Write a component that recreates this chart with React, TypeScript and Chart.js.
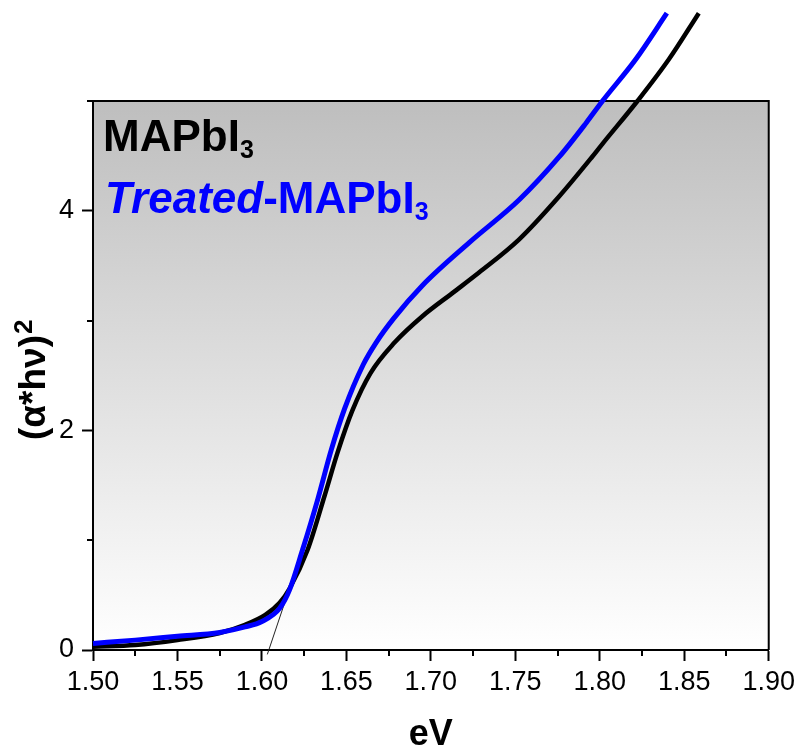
import React, { useEffect, useRef } from 'react';
import { Chart, registerables } from 'chart.js';

Chart.register(...registerables);

// Tauc plot data: photon energy (eV) vs (alpha*h*nu)^2
const treatedEv = [
  1.5, 1.525, 1.55, 1.575, 1.59, 1.6, 1.6105, 1.6164, 1.624, 1.633, 1.641,
  1.649, 1.66, 1.6676, 1.678, 1.695, 1.7227, 1.7523, 1.7759, 1.7919, 1.8016, 1.8213, 1.8397,
];
const treatedAbs = [
  0.06, 0.09, 0.125, 0.16, 0.21, 0.26, 0.38, 0.55, 0.91, 1.37, 1.82,
  2.2, 2.6, 2.8, 3.02, 3.32, 3.71, 4.1, 4.49, 4.8, 5.0, 5.38, 5.8,
];

const pristineEv = [
  1.5, 1.525, 1.55, 1.575, 1.59, 1.602, 1.6105, 1.6164, 1.627, 1.637, 1.6448, 1.6535,
  1.6642, 1.6785, 1.695, 1.7127, 1.7287, 1.7523, 1.7759, 1.7954, 1.8016, 1.8223, 1.8409, 1.8586,
];
const pristineAbs = [
  0.03, 0.045, 0.09, 0.155, 0.23, 0.32, 0.43, 0.56, 0.91, 1.4, 1.8, 2.18,
  2.52, 2.8, 3.04, 3.25, 3.44, 3.74, 4.13, 4.49, 4.61, 5.0, 5.38, 5.8,
];

// Linear extrapolation of the absorption edge
const tangentEv = [1.6032, 1.632];
const tangentAbs = [-0.04, 1.28];

const xMin = 1.5;
const xMax = 1.9;
const xStep = 0.025; // minor step, labels every 0.05
const yMin = 0;
const yMax = 5;
const yStep = 1; // minor step, labels every 2

const FONT = "'Liberation Sans', Arial, Helvetica, sans-serif";

const toPoints = (xs: number[], ys: number[]) => xs.map((x, i) => ({ x, y: ys[i] }));

const isMajorX = (v: number) => Math.round(v * 1000) % 50 === 0;
const isMajorY = (v: number) => Math.round(v) % 2 === 0;

const plotDecor = {
  id: 'plotDecor',
  beforeDraw(chart: any) {
    const { ctx, chartArea: a } = chart;
    const g = ctx.createLinearGradient(0, a.top, 0, a.bottom);
    g.addColorStop(0, 'rgb(190,190,190)');
    g.addColorStop(1, 'rgb(255,255,255)');
    ctx.save();
    ctx.fillStyle = g;
    ctx.fillRect(a.left, a.top, a.right - a.left, a.bottom - a.top);
    ctx.restore();
  },
  beforeDatasetsDraw(chart: any) {
    const { ctx, chartArea: a, scales } = chart;
    ctx.save();
    ctx.strokeStyle = '#000';
    ctx.lineWidth = 2;
    // top and right frame
    ctx.beginPath();
    ctx.moveTo(a.left, a.top);
    ctx.lineTo(a.right, a.top);
    ctx.lineTo(a.right, a.bottom);
    ctx.stroke();
    // minor ticks
    const minorLen = 6;
    ctx.beginPath();
    for (const t of scales.x.ticks) {
      if (isMajorX(t.value)) continue;
      const px = Math.round(scales.x.getPixelForValue(t.value));
      ctx.moveTo(px, a.bottom);
      ctx.lineTo(px, a.bottom + minorLen);
    }
    for (const t of scales.y.ticks) {
      if (isMajorY(t.value)) continue;
      const py = Math.round(scales.y.getPixelForValue(t.value));
      ctx.moveTo(a.left, py);
      ctx.lineTo(a.left - minorLen, py);
    }
    ctx.stroke();
    ctx.restore();
  },
  afterDraw(chart: any) {
    const { ctx, chartArea: a } = chart;
    const drawLabel = (
      parts: { text: string; style: string; sub?: boolean }[],
      x: number,
      y: number,
      color: string,
    ) => {
      let cx = x;
      ctx.fillStyle = color;
      ctx.textBaseline = 'alphabetic';
      ctx.textAlign = 'left';
      for (const p of parts) {
        ctx.font = p.sub ? `bold 25px ${FONT}` : `${p.style} 44px ${FONT}`;
        ctx.fillText(p.text, cx, p.sub ? y + 7 : y);
        cx += ctx.measureText(p.text).width;
      }
    };
    ctx.save();
    drawLabel(
      [
        { text: 'MAPbI', style: 'bold' },
        { text: '3', style: 'bold', sub: true },
      ],
      a.left + 10,
      a.top + 50,
      '#000',
    );
    drawLabel(
      [
        { text: 'Treated', style: 'italic bold' },
        { text: '-MAPbI', style: 'bold' },
        { text: '3', style: 'bold', sub: true },
      ],
      a.left + 12,
      a.top + 112,
      '#0000ff',
    );

    // y-axis title with a raised exponent
    ctx.translate(45, a.top + 339);
    ctx.rotate(-Math.PI / 2);
    ctx.fillStyle = '#000';
    ctx.font = `bold 37px ${FONT}`;
    const base = '(α*hν)';
    ctx.fillText(base, 0, 0);
    const w = ctx.measureText(base).width;
    ctx.font = `bold 26px ${FONT}`;
    ctx.fillText('2', w + 1, -13);
    ctx.restore();
  },
};

export default function App() {
  const ref = useRef<HTMLCanvasElement>(null);

  useEffect(() => {
    if (!ref.current) return;
    const chart = new Chart(ref.current, {
      type: 'line',
      data: {
        datasets: [
          {
            label: 'Treated-MAPbI3',
            data: toPoints(treatedEv, treatedAbs),
            borderColor: '#0000ff',
            borderWidth: 5,
            pointRadius: 0,
            cubicInterpolationMode: 'monotone',
            clip: false,
          },
          {
            label: 'MAPbI3',
            data: toPoints(pristineEv, pristineAbs),
            borderColor: '#000000',
            borderWidth: 4.5,
            pointRadius: 0,
            cubicInterpolationMode: 'monotone',
            clip: false,
          },
          {
            label: 'Tangent',
            data: toPoints(tangentEv, tangentAbs),
            borderColor: '#222',
            borderWidth: 1,
            pointRadius: 0,
            clip: false,
          },
        ],
      },
      options: {
        responsive: false,
        animation: false,
        devicePixelRatio: 1,
        layout: { padding: { top: 101, right: 30, left: 0, bottom: 0 } },
        plugins: {
          legend: { display: false },
          tooltip: { enabled: false },
        },
        scales: {
          x: {
            type: 'linear',
            min: xMin,
            max: xMax,
            afterFit: (s: any) => {
              s.height = 101;
            },
            ticks: {
              stepSize: xStep,
              autoSkip: false,
              maxRotation: 0,
              padding: 5,
              color: '#000',
              font: { family: FONT, size: 27, lineHeight: 1.2 },
              callback: (v: any) => (isMajorX(Number(v)) ? Number(v).toFixed(2) : ''),
            },
            grid: {
              drawOnChartArea: false,
              drawTicks: true,
              tickLength: 11,
              tickWidth: 2,
              tickColor: (c: any) => (c.tick && isMajorX(c.tick.value) ? '#000' : 'rgba(0,0,0,0)'),
            },
            border: { display: true, color: '#000', width: 2 },
            title: {
              display: true,
              text: 'eV',
              color: '#000',
              font: { family: FONT, size: 36, weight: 'bold', lineHeight: 1 },
              padding: { top: 0, bottom: -2.5 },
            },
          },
          y: {
            type: 'linear',
            min: yMin,
            max: yMax,
            afterFit: (s: any) => {
              s.width = 93;
            },
            ticks: {
              stepSize: yStep,
              autoSkip: false,
              padding: 8,
              color: '#000',
              font: { family: FONT, size: 27, lineHeight: 1.2 },
              callback: (v: any) => (isMajorY(Number(v)) ? String(v) : ''),
            },
            grid: {
              drawOnChartArea: false,
              drawTicks: true,
              tickLength: 11,
              tickWidth: 2,
              tickColor: (c: any) => (c.tick && isMajorY(c.tick.value) ? '#000' : 'rgba(0,0,0,0)'),
            },
            border: { display: true, color: '#000', width: 2 },
          },
        },
      },
      plugins: [plotDecor],
    } as any);
    return () => chart.destroy();
  }, []);

  return (
    <div style={{ position: 'fixed', left: 0, top: 0, width: 800, height: 751, background: '#fff' }}>
      <canvas ref={ref} width={800} height={751} style={{ display: 'block' }} />
    </div>
  );
}
